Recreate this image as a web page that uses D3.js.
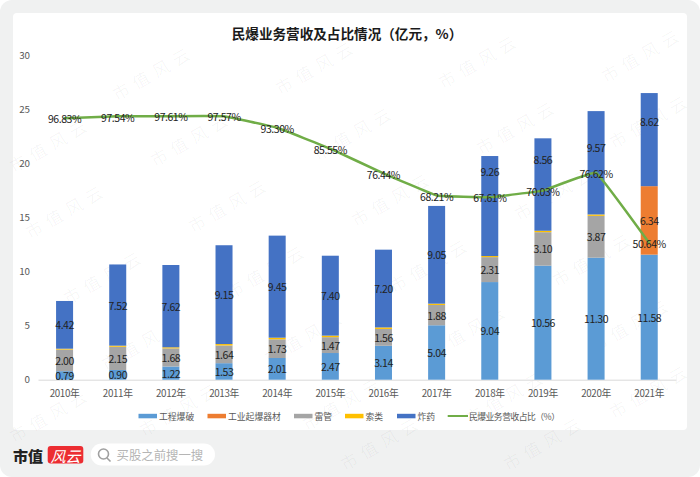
<!DOCTYPE html>
<html><head><meta charset="utf-8">
<script src="https://cdn.jsdelivr.net/npm/d3@7/dist/d3.min.js"></script>
<style>html,body{margin:0;padding:0;background:#fff}svg{display:block}</style>
</head><body><svg id="c" width="700" height="477"></svg>
<script>
const years=["2010年","2011年","2012年","2013年","2014年","2015年","2016年","2017年","2018年","2019年","2020年","2021年"];
const blasting=[0.79,0.90,1.22,1.53,2.01,2.47,3.14,5.04,9.04,10.56,11.30,11.58];
const initiators=[0,0,0,0,0,0,0,0,0,0,0,6.34];
const detonators=[2.00,2.15,1.68,1.64,1.73,1.47,1.56,1.88,2.31,3.10,3.87,0];
const cords=[0.08,0.10,0.10,0.13,0.15,0.14,0.14,0.12,0.10,0.13,0.13,0];
const explosives=[4.42,7.52,7.62,9.15,9.45,7.40,7.20,9.05,9.26,8.56,9.57,8.62];
const share=[96.83,97.54,97.61,97.57,93.30,85.55,76.44,68.21,67.61,70.03,76.62,50.64];
const yTicks=[0,5,10,15,20,25,30];
const seriesNames=["工程爆破","工业起爆器材","雷管","索类","炸药"];
const lineName="民爆业务营收占比（%）";
const titleText="民爆业务营收及占比情况（亿元，%）";
const colors=["#5B9BD5","#ED7D31","#A5A5A5","#FFC000","#4472C4"];
const lineColor="#70AD47";
const font='"Noto Sans CJK SC","Noto Sans",sans-serif';
const labelNudge={"2018年":-35,"2019年":-25,"2020年":-15,"2021年":-18};

const svg=d3.select("#c");
svg.append("rect").attr("width",700).attr("height",477).attr("rx",12).attr("fill","#f0f1f1");
svg.append("rect").attr("x",13).attr("y",13).attr("width",674).attr("height",417).attr("rx",4).attr("fill","#fff");

// watermark lattice
const wm=svg.append("g").attr("fill","#000").attr("fill-opacity",0.04).attr("font-family",font).attr("font-size",17).attr("text-anchor","middle").attr("dominant-baseline","central");
for(let j=-1;j<=6;j++) for(let i=-3;i<=4;i++){
  let cxw=153+163*i+38*j, cyw=72-6*i+66*j;
  if(cxw<10||cxw>690||cyw<8||cyw>470) continue;
  cxw=Math.max(50,Math.min(650,cxw)); cyw=Math.max(32,Math.min(442,cyw));
  wm.append("text").attr("transform",`translate(${cxw},${cyw}) rotate(-30)`).attr("letter-spacing",6).text("市值风云");
}

const x=d3.scaleBand().domain(years).range([38,675.8]).paddingInner(0.68).paddingOuter(0.34);
const y=d3.scaleLinear().domain([0,30]).range([379.7,55.7]);
const yShare=d3.scaleLinear().domain([0,120]).range([379.7,55.7]);
const cx=d=>x(d)+x.bandwidth()/2;

const rows=years.map((yr,i)=>({yr,a:blasting[i],b:initiators[i],c:detonators[i],d:cords[i],e:explosives[i]}));
const stack=d3.stack().keys(["a","b","c","d","e"])(rows);

const gx=svg.append("g").attr("transform","translate(0,379.7)").call(d3.axisBottom(x).tickSize(0).tickPadding(10));
gx.select(".domain").attr("stroke","#d9d9d9");
gx.selectAll("text").attr("font-family",font).attr("font-size",9.8).attr("letter-spacing",-0.35).attr("fill","#595959");
const gy=svg.append("g").attr("transform","translate(29.5,0)").call(d3.axisLeft(y).tickValues(yTicks).tickSize(0).tickPadding(0));
gy.select(".domain").remove();
gy.selectAll("text").attr("font-family",font).attr("font-size",9.8).attr("letter-spacing",-0.35).attr("fill","#595959");

stack.forEach((s,k)=>{
  svg.append("g").selectAll("rect").data(s).join("rect")
    .attr("x",d=>x(d.data.yr)).attr("width",x.bandwidth())
    .attr("y",d=>y(d[1])).attr("height",d=>y(d[0])-y(d[1])).attr("fill",colors[k]);
});

const line=d3.line().x((d,i)=>cx(years[i])).y(d=>yShare(d)).curve(d3.curveCardinal.tension(0.8));
svg.append("path").attr("d",line(share)).attr("fill","none").attr("stroke",lineColor).attr("stroke-width",2.5).attr("stroke-linejoin","round").attr("stroke-linecap","round");

const labels=svg.append("g").attr("font-family",font).attr("font-size",10.5).attr("letter-spacing",-0.45).attr("fill","#222").attr("text-anchor","middle").attr("dominant-baseline","central");
stack.forEach((s,k)=>{
  if(k===3) return;
  s.forEach(d=>{
    const v=d[1]-d[0]; if(!v) return;
    const n=k===4?(labelNudge[d.data.yr]||0):0;
    labels.append("text").attr("x",cx(d.data.yr)).attr("y",y((d[0]+d[1])/2)+n).text(v.toFixed(2));
  });
});
share.forEach((v,i)=>labels.append("text").attr("x",cx(years[i])).attr("y",yShare(v)+0.7).text(v.toFixed(2)+"%"));

svg.append("text").attr("x",347).attr("y",33).attr("text-anchor","middle").attr("dominant-baseline","central")
  .attr("font-family",font).attr("font-size",13.6).attr("font-weight",700).attr("fill","#1a1a1a").text(titleText);

// legend
const legendX=[138.5,207.5,294,345,397];
const lg=svg.append("g").attr("font-family",font).attr("font-size",8.8).attr("fill","#595959");
seriesNames.forEach((n,i)=>{
  lg.append("rect").attr("x",legendX[i]).attr("y",413.8).attr("width",18.5).attr("height",4.5).attr("fill",colors[i]);
  lg.append("text").attr("x",legendX[i]+20.5).attr("y",416).attr("dominant-baseline","central").text(n);
});
lg.append("line").attr("x1",447.7).attr("x2",468).attr("y1",416).attr("y2",416).attr("stroke",lineColor).attr("stroke-width",2);
lg.append("text").attr("x",469).attr("y",416).attr("dominant-baseline","central").attr("textLength",91).text(lineName);

// footer brand
svg.append("text").attr("x",13).attr("y",455).attr("dominant-baseline","central").attr("font-family",'"Noto Sans CJK SC",serif').attr("font-weight",900).attr("font-size",15).attr("fill","#222").text("市值");
svg.append("rect").attr("x",47.7).attr("y",446).attr("width",35.6).attr("height",17.5).attr("rx",3).attr("fill","#ec2d32");
svg.append("text").attr("x",65.5).attr("y",455).attr("text-anchor","middle").attr("dominant-baseline","central").attr("font-family",font).attr("font-style","italic").attr("font-size",15).attr("fill","#fff").text("风云");
svg.append("rect").attr("x",90.7).attr("y",443.5).attr("width",124.3).attr("height",22).attr("rx",11).attr("fill","#fff");
svg.append("circle").attr("cx",103.5).attr("cy",454).attr("r",5).attr("fill","none").attr("stroke","#a0a0a0").attr("stroke-width",1.6);
svg.append("line").attr("x1",107).attr("y1",458).attr("x2",110.5).attr("y2",461.5).attr("stroke","#a0a0a0").attr("stroke-width",1.6);
svg.append("text").attr("x",116.5).attr("y",455).attr("dominant-baseline","central").attr("font-family",font).attr("font-size",12.4).attr("fill","#b5b5b5").text("买股之前搜一搜");
</script></body></html>
